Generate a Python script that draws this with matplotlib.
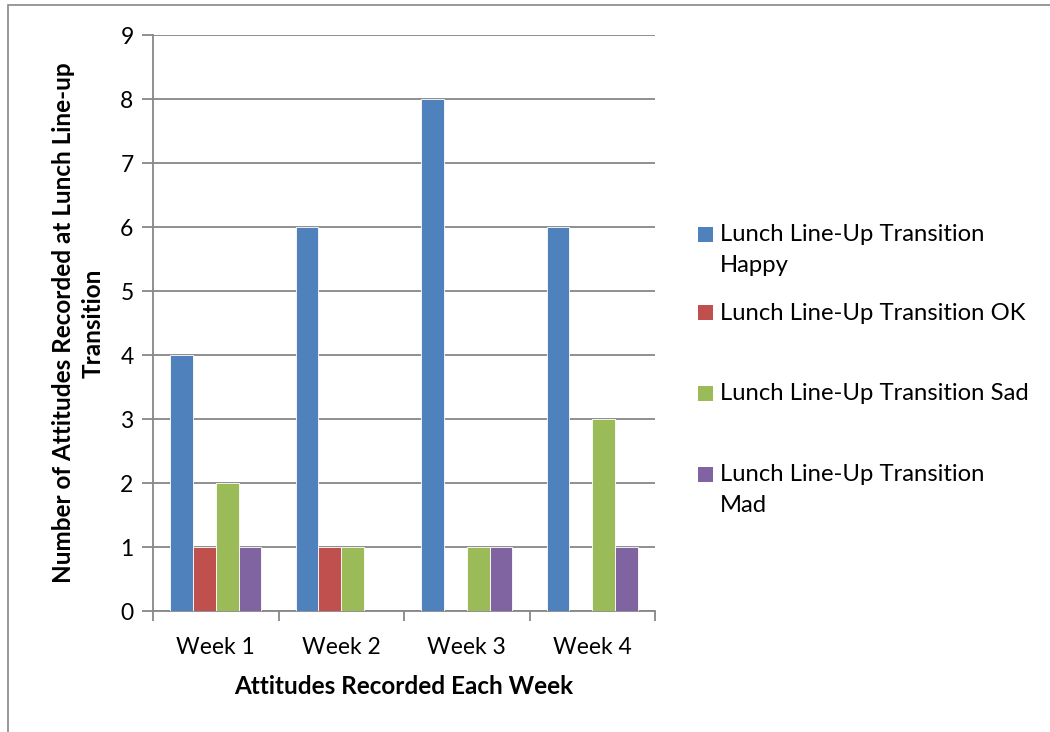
import matplotlib.pyplot as plt
import numpy as np
from matplotlib.patches import Rectangle

weeks = ["Week 1", "Week 2", "Week 3", "Week 4"]
series_names = [
	"Lunch Line-Up Transition\nHappy",
	"Lunch Line-Up Transition OK",
	"Lunch Line-Up Transition Sad",
	"Lunch Line-Up Transition\nMad",
]
happy = [4, 6, 8, 6]
ok = [1, 1, 0, 0]
sad = [2, 1, 1, 3]
mad = [1, 0, 1, 1]
colors = ["#4F81BD", "#C0504D", "#9BBB59", "#8064A2"]

plt.rcParams["font.family"] = ["Lato", "DejaVu Sans"]
grey = "#878787"

W, H = 1050, 732
fig = plt.figure(figsize=(W / 100, H / 100), dpi=100)

# outer chart border (top and left visible)
fig.patches.append(Rectangle((8 / W, -0.05), 1.1, (H - 5) / H + 0.05,
	transform=fig.transFigure, fill=False, edgecolor=grey, linewidth=1.2))

ax = fig.add_axes([153 / W, (H - 611) / H, 502 / W, 576 / H])

values = [happy, ok, sad, mad]
x = np.arange(len(weeks))
w = 1 / 5.5
for i, (vals, c) in enumerate(zip(values, colors)):
	ax.bar(x + (i - 1.5) * w, vals, width=w, color=c, edgecolor="white",
		linewidth=0.6, zorder=3)

ax.set_xlim(-0.5, 3.5)
ax.set_ylim(0, 9)
ax.set_yticks(range(10))
ax.yaxis.grid(True, color=grey, linewidth=1.3, zorder=0)
ax.set_xticks(x)
ax.set_xticklabels(weeks, fontsize=16.5)
ax.set_xticks(np.arange(-0.5, 4, 1), minor=True)
ax.tick_params(axis="x", which="major", length=0, pad=19)
ax.tick_params(axis="x", which="minor", length=7, width=1.3, color=grey)
ax.tick_params(axis="y", length=8, width=1.3, color=grey, labelsize=16.5, pad=6)
for s in ["top", "right"]:
	ax.spines[s].set_visible(False)
for s in ["left", "bottom"]:
	ax.spines[s].set_color(grey)
	ax.spines[s].set_linewidth(1.3)

ax.set_xlabel("Attitudes Recorded Each Week", fontsize=17.5, fontweight="bold", labelpad=12)
ax.set_ylabel("Number of Attitudes Recorded at Lunch Line-up\nTransition",
	fontsize=17.5, fontweight="bold", labelpad=11, linespacing=1.38)

# legend placed like the Excel one: marker sits beside the first text line
legend_y = [234, 313, 393, 474]
for name, c, yc in zip(series_names, colors, legend_y):
	fig.patches.append(Rectangle((698 / W, (H - yc - 7.5) / H), 15 / W, 15 / H,
		transform=fig.transFigure, facecolor=c, edgecolor="none"))
	extra = 16 * name.count("\n")
	fig.text(720 / W, (H - yc - extra) / H, name, fontsize=17.2, va="center",
		ha="left", linespacing=1.55)

fig.savefig("out.png", dpi=100)
